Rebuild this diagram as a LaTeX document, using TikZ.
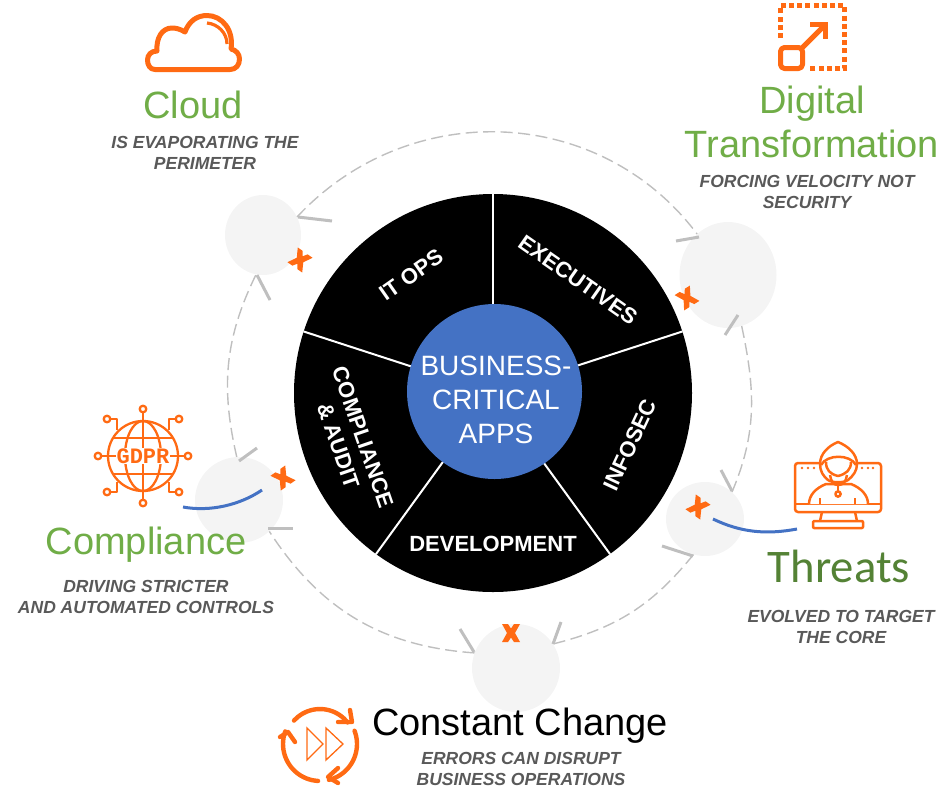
\documentclass[tikz,border=0pt]{standalone}
\usepackage{fontspec}
\setmainfont{Liberation Sans}
\newfontfamily\carlitofont{Carlito}
\newfontfamily\gdprfont{Liberation Mono}
\usetikzlibrary{shapes.geometric}
\definecolor{ogr}{HTML}{FF6A13}
\definecolor{lgreen}{HTML}{70AD47}
\definecolor{dgreen}{HTML}{548235}
\definecolor{subgray}{HTML}{595959}
\definecolor{ringgray}{HTML}{BFBFBF}
\definecolor{softgray}{HTML}{F4F4F4}
\definecolor{appblue}{HTML}{4472C4}
\newcommand{\fsz}[1]{\fontsize{#1}{#1}\selectfont}
\tikzset{
  bubble/.style={ellipse,fill=softgray,inner sep=0pt},
  ringdash/.style={draw=ringgray,line width=1.4pt,dash pattern=on 12pt off 5.5pt},
  barb/.style={draw=ringgray,line width=3pt},
  titletext/.style={text=lgreen,font=\fsz{38},align=center,inner sep=0pt},
  subtext/.style={text=subgray,font=\fsz{17.5}\bfseries\itshape,align=center,inner sep=0pt},
  seglabel/.style={text=white,font=\fsz{22}\bfseries,align=center,inner sep=0pt},
  divider/.style={draw=white,line width=2pt},
  xmark/.style={fill=ogr},
  icon/.style={draw=ogr,line width=5pt,line join=round},
  thin icon/.style={draw=ogr,line width=2.3pt,line join=round},
  swoosh/.style={draw=appblue,line width=3pt},
}
\newcommand{\orangex}[3]{\fill[xmark,shift={(#1,#2)},rotate=#3]
  (-9,-9)--(-3,-9)--(0,-4.5)--(3,-9)--(9,-9)--(4,0)--(9,9)--(3,9)--(0,4.5)--(-3,9)--(-9,9)--(-4,0)--cycle;}
\begin{document}
\begin{tikzpicture}[x=1pt,y=-1pt]
\useasboundingbox (0,0) rectangle (941,788);

% bubbles
\node[bubble,minimum width=76pt,minimum height=80pt] (bcloud) at (263,235) {};
\node[bubble,minimum width=97pt,minimum height=106pt] (bdt) at (728,275) {};
\node[bubble,minimum width=88pt,minimum height=86pt] (bcomp) at (239,500) {};
\node[bubble,minimum width=78pt,minimum height=74pt] (bthreat) at (705,519) {};
\node[bubble,minimum width=88pt,minimum height=88pt] (bchange) at (516,668) {};

% dashed ring
\draw[ringdash] (bcloud.28) to[out=47,in=127,looseness=1.04] (bdt.127);
\draw[ringdash] (bdt.-75) to[out=-78,in=67,looseness=1] (bthreat.45);
\draw[ringdash] (bthreat.-108) to[out=-129,in=14,looseness=1] (bchange.33);
\draw[ringdash] (bchange.160) to[out=176,in=-57,looseness=1] (bcomp.-46);
\draw[ringdash] (bcomp.93) to[out=103,in=244,looseness=1] (bcloud.-100);

% barbs
\draw[barb] (298,217)--(332,221);
\draw[barb] (257,275)--(270,300);
\draw[barb] (699,237)--(676,241);
\draw[barb] (738,315)--(725,335);
\draw[barb] (732,491)--(721,470);
\draw[barb] (693,556)--(662,546);
\draw[barb] (553,644)--(561,622);
\draw[barb] (474,652)--(460,629);
\draw[barb] (268,528)--(293,528);
\draw[barb] (239,461)--(257,448);

% wheel
\node[circle,fill=black,inner sep=0pt,minimum size=398pt] (wheel) at (493,393) {};
\foreach \a in {90,18,-54,-126,162}{
  \draw[divider] (wheel.center) -- (wheel.\a);
}
\node[circle,fill=appblue,inner sep=0pt,minimum size=175pt] (apps) at (494.5,391.5) {};
\node[text=white,font=\fsz{28},align=center,inner sep=0pt] (appstext) at (496,400) {BUSINESS-\\[6pt]CRITICAL\\[6pt]APPS};

\node[seglabel,rotate=35] (itops) at (411,275) {IT OPS};
\node[seglabel,rotate=-35] (exec) at (578,280) {EXECUTIVES};
\node[seglabel,rotate=65] (infosec) at (630,445) {INFOSEC};
\node[seglabel] (dev) at (493,544) {DEVELOPMENT};
\node[seglabel,rotate=-71] (audit) at (350.5,441.5) {COMPLIANCE\\[4pt]\&~AUDIT};

% orange crosses
\orangex{300}{260}{-35}
\orangex{687}{298}{32}
\orangex{283}{478}{35}
\orangex{698}{507}{-35}
\orangex{511}{633}{0}

% blue swooshes
\coordinate (cs1) at (183,507);
\coordinate (cs2) at (262,490);
\coordinate (ts1) at (713,519);
\coordinate (ts2) at (797,529);
\draw[swoosh] (cs1) .. controls (210,512) and (240,505) .. (cs2);
\draw[swoosh] (ts1) .. controls (740,532) and (765,535) .. (ts2);

% titles
\node[titletext] (tcloud) at (193,105) {Cloud};
\node[subtext] (scloud) at (205,153) {IS EVAPORATING THE\\[3pt]PERIMETER};
\node[titletext] (tdt) at (812,122) {Digital\\[6pt]Transformation};
\node[subtext] (sdt) at (807,192) {FORCING VELOCITY NOT\\[3pt]SECURITY};
\node[titletext] (tcomp) at (146,545) {Compliance};
\node[subtext] (scomp) at (146,597) {DRIVING STRICTER\\[3pt]AND AUTOMATED CONTROLS};
\node[text=dgreen,font=\carlitofont\fsz{46.7},inner sep=0pt] (tthreat) at (839,566) {Threats};
\node[subtext] (sthreat) at (841,627) {EVOLVED TO TARGET\\[3pt]THE CORE};
\node[text=black,font=\fsz{38},inner sep=0pt] (tchange) at (520,726) {Constant Change};
\node[subtext] (schange) at (521,769) {ERRORS CAN DISRUPT\\[3.5pt]BUSINESS OPERATIONS};

% cloud icon
\draw[icon] (155,69.5) -- (230,69.5) .. controls (236,69.5) and (239.5,65) .. (239.5,59)
  .. controls (239.5,54) and (236,50) .. (231,49) .. controls (234,30) and (222,15.5) .. (207,15.5)
  .. controls (197,15.5) and (189,21) .. (185,32) .. controls (180,29) and (176,28) .. (172,28)
  .. controls (162,28) and (156,38) .. (157,51) .. controls (151,51) and (147.5,55) .. (147.5,60)
  .. controls (147.5,65) and (150,69.5) .. (155,69.5) -- cycle;
\draw[draw=ogr,line width=3.2pt] (207,23) .. controls (218,24) and (227,33) .. (227,44);

% digital transformation icon
\draw[draw=ogr,line width=5pt,dash pattern=on 5pt off 3.2pt] (780.5,38) -- (780.5,5.5) -- (844.5,5.5) -- (844.5,68.5) -- (809,68.5);
\draw[icon,rounded corners=4pt] (780.5,47.5) rectangle (802.5,68.5);
\draw[icon] (802,48) -- (824,26);
\draw[icon,line join=miter] (810,24.5) -- (825.5,24.5) -- (825.5,39);

% GDPR icon
\begin{scope}[thin icon]
  \draw (143,456) circle (35);
  \draw (143,421) -- (143,491);
  \draw (143,456) ellipse (18 and 35);
  \draw (112,438) -- (174,438);
  \draw (112,474) -- (174,474);
  \draw (143,412) -- (143,421);
  \draw (143,491) -- (143,500);
  \draw (101,456) -- (116,456);
  \draw (170,456) -- (185,456);
  \draw (110,419) -- (117,419) -- (117,430);
  \draw (176,419) -- (169,419) -- (169,430);
  \draw (110,492) -- (117,492) -- (117,482);
  \draw (176,492) -- (169,492) -- (169,482);
  \draw (143,409) circle (3.3);
  \draw (143,503) circle (3.3);
  \draw (98,456) circle (3.3);
  \draw (188,456) circle (3.3);
  \draw (107,419) circle (3.3);
  \draw (179,419) circle (3.3);
  \draw (107,492) circle (3.3);
  \draw (179,492) circle (3.3);
\end{scope}
\node[fill=white,text=ogr,font=\gdprfont\fsz{22}\bfseries,inner xsep=1pt,inner ysep=1pt] (gdpr) at (143,456) {GDPR};

% hacker icon
\begin{scope}[draw=ogr,line width=2.5pt,line join=round]
  \draw[rounded corners=3pt] (795,463) rectangle (881,512);
  \draw (795,504) -- (881,504);
  \draw (822,512) -- (820,521);
  \draw (855,512) -- (857,521);
  \draw[rounded corners=1pt] (813,521) rectangle (863,528);
  \draw[fill=white] (809,504) .. controls (809,495) and (816,488) .. (826,484) -- (851,484) .. controls (861,488) and (868,495) .. (868,504);
  \draw (820,498) -- (820,504);
  \draw (855,498) -- (855,504);
  \draw[fill=white] (838,442) .. controls (828,446) and (820,454) .. (820,464) .. controls (820,471) and (823,476) .. (828,480)
     .. controls (832,483) and (844,483) .. (848,480) .. controls (853,476) and (857,471) .. (857,464) .. controls (857,454) and (848,446) .. (838,442) -- cycle;
  \draw (821,465) .. controls (827,454) and (850,454) .. (856,465);
  \draw (826,462) .. controls (826,470) and (830,474) .. (838,476) .. controls (846,474) and (851,470) .. (851,462);
  \draw (830,475) .. controls (831,482) and (834,485) .. (838,485) .. controls (843,485) and (846,482) .. (847,475);
  \draw (838,485) -- (838,491);
  \draw (838,494) circle (2.6);
  \foreach \p in {802,808,814,862,868,873}{\fill[ogr] (\p,468) circle (1.4);}
\end{scope}

% constant change icon
\begin{scope}[draw=ogr,line width=4.4pt,line cap=round,line join=round]
  \draw plot[smooth,domain=138:38,samples=12] ({320+35*cos(\x)},{744-35*sin(\x)});
  \draw (350,710) -- (352,722) -- (338,722);
  \draw plot[smooth,domain=21:-76,samples=12] ({320+37*cos(\x)},{744-37*sin(\x)});
  \draw (338,783) -- (328,777) -- (338,768);
  \draw plot[smooth,domain=267:160,samples=12] ({320+37*cos(\x)},{744-37*sin(\x)});
  \draw (280,737) -- (288,732) -- (295,742);
\end{scope}
\draw[draw=ogr,line width=1.3pt,line join=miter] (307,728) -- (323,744) -- (307,760) -- cycle;
\draw[draw=ogr,line width=1.3pt,line join=miter] (326,728) -- (343,744) -- (326,760) -- cycle;
\end{tikzpicture}
\end{document}
